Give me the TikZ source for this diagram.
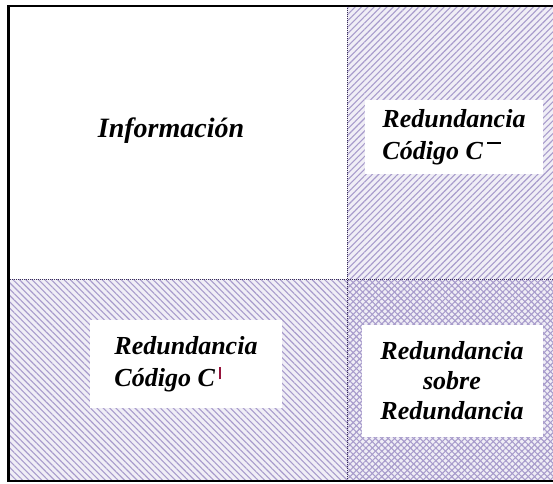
\documentclass[tikz,border=0pt]{standalone}
\usepackage{fontspec}
\setmainfont{Liberation Serif}
\usepackage{xcolor}
\usepackage{tikz}
\usetikzlibrary{patterns.meta, positioning}

\definecolor{hatchcol}{RGB}{110,90,170}
\definecolor{barcol}{RGB}{150,20,60}

\begin{document}
\begin{tikzpicture}[
    x=1pt, y=-1pt,
    tint/.style={fill=hatchcol!10},
    hatchne/.style={
        pattern={Lines[angle=45,distance=4.5pt,line width=1.1pt]},
        pattern color=hatchcol!60
    },
    hatchnw/.style={
        pattern={Lines[angle=-45,distance=4.5pt,line width=1.1pt]},
        pattern color=hatchcol!60
    },
    textbox/.style={
        fill=white,
        inner sep=0pt,
        font=\fontsize{26}{32}\selectfont\bfseries\itshape
    },
    frame/.style={
        line width=2.5pt,
        black
    }
]
\useasboundingbox (0,0) rectangle (553,483);

% Tinted background of the hatched regions
\fill[tint] (347,6) rectangle (553,279);
\fill[tint] (8,279) rectangle (553,481);

% Hatching (both directions cross in the lower right)
\fill[hatchne] (347,6) rectangle (553,481);
\fill[hatchnw] (8,279) rectangle (553,481);

% Region borders
\draw[densely dotted, hatchcol!50!black, line width=1pt] (8,279) -- (553,279);
\draw[densely dotted, hatchcol!50!black, line width=1pt] (347,6) -- (347,481);

% Frame
\draw[frame] (553,6) -- (8.5,6) -- (8.5,481) -- (553,481);

% Labels
\node[font=\fontsize{28}{32}\selectfont\bfseries\itshape] (info) at (171,131) {Información};

\node[textbox, minimum width=178pt, minimum height=74pt, align=left]
    (redC) at (454,137)
    {Redundancia\\Código C\,\raisebox{15pt}{\rule{14pt}{2pt}}};

\node[textbox, minimum width=192pt, minimum height=88pt, align=left]
    (redCl) at (186,364)
    {Redundancia\\Código C\,\textcolor{barcol}{\rule[7pt]{1.5pt}{12pt}}};

\node[textbox, minimum width=181pt, minimum height=112pt, align=center,
      font=\fontsize{26}{30}\selectfont\bfseries\itshape]
    (redred) at (452,381)
    {Redundancia\\sobre\\Redundancia};
\end{tikzpicture}
\end{document}
